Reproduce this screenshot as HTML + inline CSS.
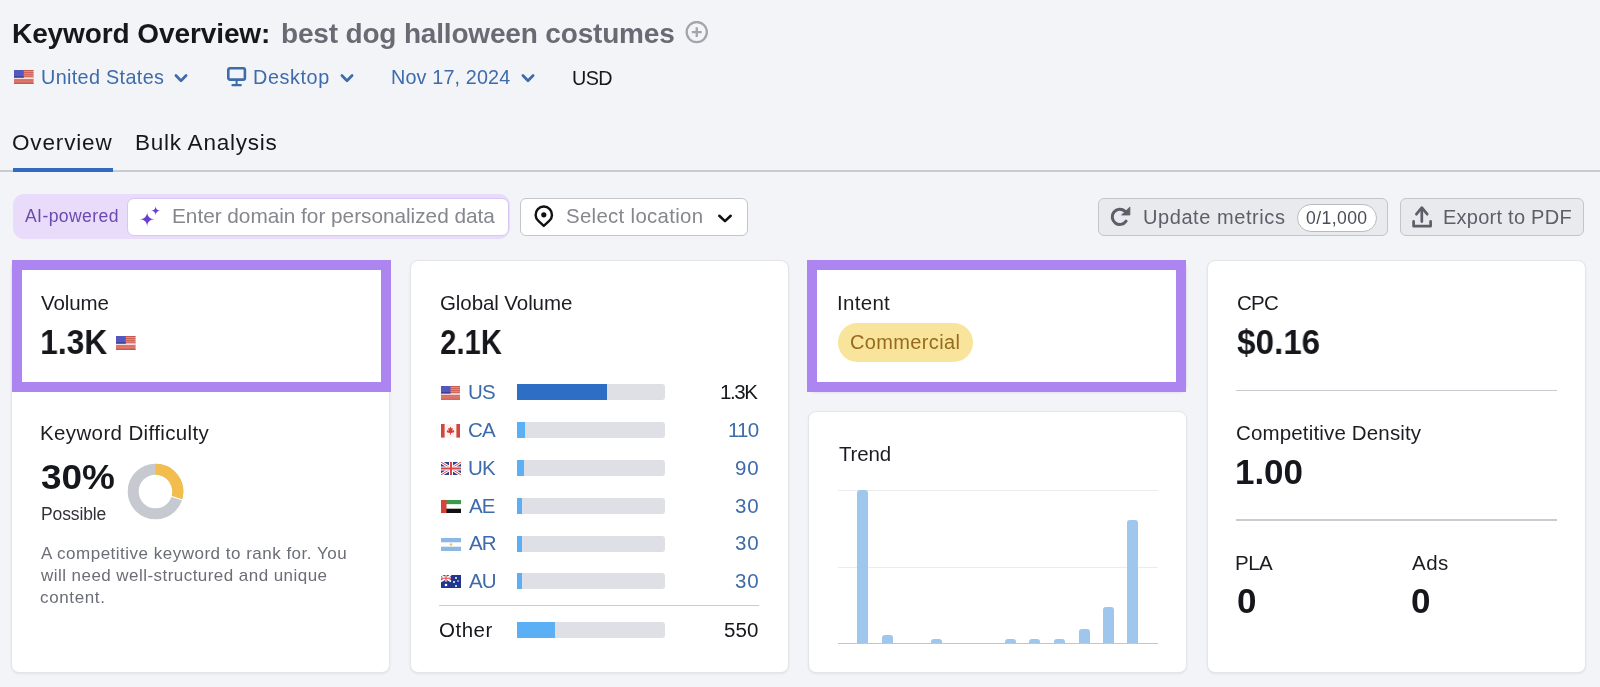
<!DOCTYPE html>
<html><head><meta charset="utf-8"><title>Keyword Overview</title>
<style>
*{margin:0;padding:0;box-sizing:border-box}
html,body{width:1600px;height:687px;overflow:hidden;background:#f3f4f8}
body{position:relative;font-family:"Liberation Sans",sans-serif}
.t{position:absolute;white-space:nowrap;will-change:transform}
.a{position:absolute}
.card{position:absolute;background:#fff;border:1px solid #e4e5ea;border-radius:8px;box-shadow:0 1px 2px rgba(30,35,60,0.08)}
.hl{position:absolute;border:10px solid #ad85f1}
.track{position:absolute;height:16px;background:#dfe0e6;border-radius:0 3px 3px 0}
.fill{position:absolute;left:0;top:0;height:16px}
.bar{position:absolute;width:11px;background:#9fc6ec;border-radius:3px 3px 0 0}
</style></head>
<body>
<!-- title plus icon -->
<svg class="a" style="left:685px;top:21px" width="24" height="24" viewBox="0 0 24 24"><circle cx="11.75" cy="11.1" r="10.1" fill="none" stroke="#a2a5ad" stroke-width="2.3"/><path d="M11.75 6.2v9.8M6.85 11.1h9.8" stroke="#a2a5ad" stroke-width="2.3"/></svg>
<!-- US flag header -->
<svg class="a" style="left:14px;top:70.2px" width="19.5" height="14" viewBox="0 0 20 14" preserveAspectRatio="none"><rect width="20" height="14" fill="#e98a7c"/><g fill="#c65a4f"><rect y="0" width="20" height="1"/><rect y="2.2" width="20" height="0.9"/><rect y="4.3" width="20" height="0.9"/><rect y="6.4" width="20" height="0.9"/><rect y="9.6" width="20" height="0.9"/><rect y="11.7" width="20" height="0.9"/><rect y="13" width="20" height="1"/></g><rect y="7.4" width="20" height="1.5" fill="#f6e3e3"/><rect width="10" height="7.4" fill="#5358bf"/><rect y="6.6" width="10" height="0.9" fill="#272a78"/></svg>
<!-- chevrons -->
<svg class="a" style="left:172px;top:72px" width="18" height="12" viewBox="0 0 18 12"><path d="M3.9 3.5l5.1 5.3 5.1-5.3" fill="none" stroke="#3e6ba9" stroke-width="2.7" stroke-linecap="round" stroke-linejoin="round"/></svg>
<svg class="a" style="left:338px;top:72px" width="18" height="12" viewBox="0 0 18 12"><path d="M3.9 3.5l5.1 5.3 5.1-5.3" fill="none" stroke="#3e6ba9" stroke-width="2.7" stroke-linecap="round" stroke-linejoin="round"/></svg>
<svg class="a" style="left:518.5px;top:72px" width="18" height="12" viewBox="0 0 18 12"><path d="M3.9 3.5l5.1 5.3 5.1-5.3" fill="none" stroke="#3e6ba9" stroke-width="2.7" stroke-linecap="round" stroke-linejoin="round"/></svg>
<!-- desktop icon -->
<svg class="a" style="left:226px;top:66px" width="22" height="22" viewBox="0 0 22 22"><rect x="2.3" y="2.3" width="16.6" height="11.3" rx="1.6" fill="none" stroke="#3e6ba9" stroke-width="2.6"/><rect x="9.6" y="14" width="2" height="4.4" fill="#3e6ba9"/><rect x="5.4" y="18" width="10.5" height="2.3" rx="1.15" fill="#3e6ba9"/></svg>
<!-- tabs -->
<div class="a" style="left:0;top:170px;width:1600px;height:2px;background:#cacbd1"></div>
<div class="a" style="left:13px;top:168px;width:100px;height:4px;background:#2f6bc0"></div>
<!-- AI pill -->
<div class="a" style="left:13px;top:194px;width:497px;height:45px;background:#e8dcfa;border-radius:11px"></div>
<div class="a" style="left:127px;top:197.5px;width:382px;height:38px;background:#fff;border:1.5px solid #d9c6f5;border-radius:7px"></div>
<svg class="a" style="left:136px;top:202px" width="30" height="30" viewBox="0 0 30 30"><path d="M11.15 10.05 C11.15 14.23 14.17 17.25 18.35 17.25 C14.17 17.25 11.15 20.27 11.15 24.45 C11.15 20.27 8.13 17.25 3.95 17.25 C8.13 17.25 11.15 14.23 11.15 10.05 Z" fill="#6a3fd0"/><path d="M19.65 4.35 C19.65 6.90 21.50 8.75 24.05 8.75 C21.50 8.75 19.65 10.60 19.65 13.15 C19.65 10.60 17.80 8.75 15.25 8.75 C17.80 8.75 19.65 6.90 19.65 4.35 Z" fill="#6a3fd0"/></svg>
<!-- select location -->
<div class="a" style="left:520px;top:197.5px;width:228px;height:38px;background:#fff;border:1px solid #c3c5cb;border-radius:6px"></div>
<svg class="a" style="left:528px;top:200px" width="32" height="32" viewBox="0 0 32 32"><path d="M15.8 25.9 L10.4 20.9 A8.2 8.2 0 1 1 21.2 20.9 Z" fill="none" stroke="#111" stroke-width="2.4" stroke-linejoin="round"/><circle cx="15.8" cy="14.8" r="2.6" fill="#111"/></svg>
<svg class="a" style="left:715.6px;top:210.7px" width="18" height="14" viewBox="0 0 18 14"><path d="M3.3 4.8l5.7 5.3 5.7-5.3" fill="none" stroke="#111" stroke-width="2.6" stroke-linecap="round" stroke-linejoin="round"/></svg>
<!-- update metrics btn -->
<div class="a" style="left:1098px;top:198px;width:290px;height:38px;background:#e9eaee;border:1px solid #c3c5cb;border-radius:6px"></div>
<div class="a" style="left:1297px;top:203.5px;width:79.5px;height:28px;background:#fff;border:1.3px solid #babcc2;border-radius:14px"></div>
<svg class="a" style="left:1105px;top:200px" width="35" height="34" viewBox="0 0 35 34"><path d="M19.9 11.2 A7.6 7.6 0 1 0 21.1 21.2" fill="none" stroke="#5c5f68" stroke-width="3" stroke-linecap="round"/><path d="M16.6 15 L24.9 15 L24.9 7 Z" fill="#5c5f68" stroke="#5c5f68" stroke-width="0.8" stroke-linejoin="round"/></svg>
<!-- export btn -->
<div class="a" style="left:1400px;top:198px;width:184px;height:38px;background:#e9eaee;border:1px solid #c3c5cb;border-radius:6px"></div>
<svg class="a" style="left:1405px;top:200px" width="35" height="34" viewBox="0 0 35 34"><path d="M16.8 21.6V11" fill="none" stroke="#5c5f68" stroke-width="2.7" stroke-linecap="round"/><path d="M11.4 14.2 L16.8 7.6 L22.2 14.2" fill="none" stroke="#5c5f68" stroke-width="2.7" stroke-linecap="round" stroke-linejoin="round"/><path d="M8.6 21.4v4.8h17v-4.8" fill="none" stroke="#5c5f68" stroke-width="2.7" stroke-linecap="round" stroke-linejoin="round"/></svg>

<!-- cards -->
<div class="card" style="left:11px;top:260px;width:379px;height:413px"></div>
<div class="card" style="left:410px;top:260px;width:379px;height:413px"></div>
<div class="card" style="left:808px;top:260px;width:379px;height:132px"></div>
<div class="card" style="left:808px;top:411px;width:379px;height:262px"></div>
<div class="card" style="left:1207px;top:260px;width:379px;height:413px"></div>
<div class="hl" style="left:12px;top:260px;width:379px;height:132px"></div>
<div class="hl" style="left:807px;top:260px;width:379px;height:132px"></div>

<!-- volume flag -->
<svg class="a" style="left:116px;top:336px" width="19.5" height="14" viewBox="0 0 20 14" preserveAspectRatio="none"><rect width="20" height="14" fill="#e98a7c"/><g fill="#c65a4f"><rect y="0" width="20" height="1"/><rect y="2.2" width="20" height="0.9"/><rect y="4.3" width="20" height="0.9"/><rect y="6.4" width="20" height="0.9"/><rect y="9.6" width="20" height="0.9"/><rect y="11.7" width="20" height="0.9"/><rect y="13" width="20" height="1"/></g><rect y="7.4" width="20" height="1.5" fill="#f6e3e3"/><rect width="10" height="7.4" fill="#5358bf"/><rect y="6.6" width="10" height="0.9" fill="#272a78"/></svg>

<!-- donut -->
<svg class="a" style="left:127px;top:463px" width="57" height="57" viewBox="0 0 57 57"><circle cx="28.5" cy="28.5" r="22.3" fill="none" stroke="#c6c9d0" stroke-width="11"/><path d="M28.5 6.2 A22.3 22.3 0 0 1 49.7 35.4" fill="none" stroke="#f2bd4d" stroke-width="11"/><path d="M44 33.2 L55.5 37" stroke="#fff" stroke-width="1.2"/></svg>

<!-- global volume bars -->
<div class="track" style="left:517px;top:384px;width:148px"><div class="fill" style="width:90px;background:#2e6ec4"></div></div>
<div class="track" style="left:517px;top:422px;width:148px"><div class="fill" style="width:8px;background:#5bb0f5"></div></div>
<div class="track" style="left:517px;top:460px;width:148px"><div class="fill" style="width:7px;background:#5bb0f5"></div></div>
<div class="track" style="left:517px;top:497.5px;width:148px"><div class="fill" style="width:4.5px;background:#5bb0f5"></div></div>
<div class="track" style="left:517px;top:535.5px;width:148px"><div class="fill" style="width:4.5px;background:#5bb0f5"></div></div>
<div class="track" style="left:517px;top:573px;width:148px"><div class="fill" style="width:4.5px;background:#5bb0f5"></div></div>
<div class="a" style="left:439px;top:604.5px;width:320px;height:1.5px;background:#c9cbd0"></div>
<div class="track" style="left:517px;top:622px;width:148px"><div class="fill" style="width:38px;background:#5bb0f5"></div></div>
<!-- country flags -->
<svg class="a" style="left:440.9px;top:386.1px" width="19" height="13.8" viewBox="0 0 20 14" preserveAspectRatio="none"><rect width="20" height="14" fill="#e98a7c"/><g fill="#c65a4f"><rect y="0" width="20" height="1"/><rect y="2.2" width="20" height="0.9"/><rect y="4.3" width="20" height="0.9"/><rect y="6.4" width="20" height="0.9"/><rect y="9.6" width="20" height="0.9"/><rect y="11.7" width="20" height="0.9"/><rect y="13" width="20" height="1"/></g><rect y="7.4" width="20" height="1.5" fill="#f6e3e3"/><rect width="10" height="7.4" fill="#5358bf"/><rect y="6.6" width="10" height="0.9" fill="#272a78"/></svg>
<svg class="a" style="left:440.9px;top:424px" width="19" height="13.6" viewBox="0 0 19 13.6"><rect width="19" height="13.6" fill="#fbf3f1"/><rect width="3.6" height="13.6" fill="#d2463c"/><rect x="15.4" width="3.6" height="13.6" fill="#d2463c"/><path d="M9.5 2.6 L10.5 4.6 L11.8 4.1 L11.3 6.9 L12.9 6 L13.3 7.3 L12.6 8.6 L10 9.1 L9.9 10.8 H9.1 L9 9.1 L6.4 8.6 L5.7 7.3 L6.1 6 L7.7 6.9 L7.2 4.1 L8.5 4.6Z" fill="#d83a30"/></svg>
<svg class="a" style="left:440.5px;top:462px" width="20" height="13" viewBox="0 0 20 13"><rect width="20" height="13" fill="#2d3f8f"/><path d="M0 0L20 13M20 0L0 13" stroke="#fff" stroke-width="3"/><path d="M0 0L20 13M20 0L0 13" stroke="#d44" stroke-width="1"/><path d="M10 0V13M0 6.5H20" stroke="#fff" stroke-width="4"/><path d="M10 0V13M0 6.5H20" stroke="#d44" stroke-width="2"/></svg>
<svg class="a" style="left:440.5px;top:500px" width="20" height="13" viewBox="0 0 20 13"><rect width="20" height="4.4" fill="#3a9a4a"/><rect y="4.4" width="20" height="4.3" fill="#fff"/><rect y="8.7" width="20" height="4.3" fill="#111"/><rect width="5.5" height="13" fill="#d7423a"/></svg>
<svg class="a" style="left:440.5px;top:537.5px" width="20" height="13" viewBox="0 0 20 13"><rect width="20" height="13" fill="#fff"/><rect width="20" height="4.3" fill="#8db8e3"/><rect y="8.7" width="20" height="4.3" fill="#8db8e3"/><circle cx="10" cy="6.5" r="1.3" fill="#f0c060"/></svg>
<svg class="a" style="left:440.5px;top:575px" width="20" height="13" viewBox="0 0 20 13"><rect width="20" height="13" fill="#22368f"/><rect width="10" height="6.5" fill="#2d3f8f"/><path d="M0 0L10 6.5M10 0L0 6.5" stroke="#fff" stroke-width="1.5"/><path d="M5 0V6.5M0 3.25H10" stroke="#fff" stroke-width="2.2"/><path d="M5 0V6.5M0 3.25H10" stroke="#d44" stroke-width="1.1"/><circle cx="5" cy="10" r="1.3" fill="#fff"/><circle cx="15" cy="3" r="1" fill="#fff"/><circle cx="13" cy="7" r="1" fill="#fff"/><circle cx="17" cy="6" r="0.8" fill="#fff"/><circle cx="15" cy="11" r="1" fill="#fff"/></svg>

<!-- intent pill -->
<div class="a" style="left:837.5px;top:323px;width:135.5px;height:38.5px;background:#f8e49b;border-radius:19.5px"></div>

<!-- trend chart -->
<div class="a" style="left:838px;top:490px;width:320px;height:1px;background:#ebecf0"></div>
<div class="a" style="left:838px;top:566.5px;width:320px;height:1px;background:#ebecf0"></div>
<div class="a" style="left:838px;top:642.5px;width:320px;height:1.5px;background:#c3c5cb"></div>
<div class="bar" style="left:857.2px;top:490.4px;height:153px"></div>
<div class="bar" style="left:882px;top:634.7px;height:8.6px"></div>
<div class="bar" style="left:930.7px;top:638.9px;height:4.4px"></div>
<div class="bar" style="left:1005px;top:638.9px;height:4.4px"></div>
<div class="bar" style="left:1029.2px;top:638.9px;height:4.4px"></div>
<div class="bar" style="left:1054px;top:638.9px;height:4.4px"></div>
<div class="bar" style="left:1078.7px;top:628.5px;height:14.8px"></div>
<div class="bar" style="left:1103px;top:607.4px;height:35.9px"></div>
<div class="bar" style="left:1127px;top:520px;height:123.3px"></div>

<!-- card4 dividers -->
<div class="a" style="left:1236px;top:389.5px;width:321px;height:1.5px;background:#c9cbd1"></div>
<div class="a" style="left:1236px;top:519px;width:321px;height:1.5px;background:#c9cbd1"></div>

<div class="t" style="left:12.00px;top:19.80px;font-size:28.00px;line-height:28.00px;color:#15171c;font-weight:bold;letter-spacing:-0.094px;">Keyword Overview:</div>
<div class="t" style="left:280.50px;top:20.00px;font-size:28.00px;line-height:28.00px;color:#686b74;font-weight:bold;letter-spacing:-0.173px;">best dog halloween costumes</div>
<div class="t" style="left:40.90px;top:68.20px;font-size:19.80px;line-height:19.80px;color:#3e6ba9;letter-spacing:0.342px;">United States</div>
<div class="t" style="left:253.30px;top:68.20px;font-size:19.80px;line-height:19.80px;color:#3e6ba9;letter-spacing:0.600px;">Desktop</div>
<div class="t" style="left:390.80px;top:68.20px;font-size:19.80px;line-height:19.80px;color:#3e6ba9;letter-spacing:0.145px;">Nov 17, 2024</div>
<div class="t" style="left:572.00px;top:68.50px;font-size:19.80px;line-height:19.80px;color:#15171c;letter-spacing:-0.650px;">USD</div>
<div class="t" style="left:12.10px;top:132.00px;font-size:22.50px;line-height:22.50px;color:#15171c;letter-spacing:0.843px;">Overview</div>
<div class="t" style="left:134.60px;top:132.00px;font-size:22.50px;line-height:22.50px;color:#15171c;letter-spacing:0.767px;">Bulk Analysis</div>
<div class="t" style="left:24.50px;top:207.80px;font-size:17.60px;line-height:17.60px;color:#6a4ab0;letter-spacing:0.389px;">AI-powered</div>
<div class="t" style="left:171.90px;top:206.40px;font-size:20.80px;line-height:20.80px;color:#85878d;letter-spacing:-0.027px;">Enter domain for personalized data</div>
<div class="t" style="left:565.80px;top:206.00px;font-size:20.40px;line-height:20.40px;color:#85878d;letter-spacing:0.321px;">Select location</div>
<div class="t" style="left:1142.80px;top:206.80px;font-size:20.00px;line-height:20.00px;color:#5c5f68;letter-spacing:0.569px;">Update metrics</div>
<div class="t" style="left:1306.00px;top:209.50px;font-size:17.60px;line-height:17.60px;color:#4a4d55;letter-spacing:0.400px;">0/1,000</div>
<div class="t" style="left:1443.00px;top:206.80px;font-size:20.00px;line-height:20.00px;color:#5c5f68;letter-spacing:0.250px;">Export to PDF</div>
<div class="t" style="left:41.00px;top:293.00px;font-size:20.50px;line-height:20.50px;color:#1b1d22;letter-spacing:-0.080px;">Volume</div>
<div class="t" style="left:39.60px;top:323.70px;font-size:35.00px;line-height:35.00px;color:#15171c;font-weight:bold;transform:scaleX(0.9056);transform-origin:2.00px 0;">1.3K</div>
<div class="t" style="left:39.70px;top:423.30px;font-size:20.50px;line-height:20.50px;color:#1b1d22;letter-spacing:0.371px;">Keyword Difficulty</div>
<div class="t" style="left:41.00px;top:458.60px;font-size:35.00px;line-height:35.00px;color:#15171c;font-weight:bold;transform:scaleX(1.0544);transform-origin:1.00px 0;">30%</div>
<div class="t" style="left:40.80px;top:505.50px;font-size:17.50px;line-height:17.50px;color:#303238;letter-spacing:-0.114px;">Possible</div>
<div class="t" style="left:41.30px;top:544.90px;font-size:17.00px;line-height:17.00px;color:#6b6e76;letter-spacing:0.495px;">A competitive keyword to rank for. You</div>
<div class="t" style="left:41.30px;top:566.80px;font-size:17.00px;line-height:17.00px;color:#6b6e76;letter-spacing:0.450px;">will need well-structured and unique</div>
<div class="t" style="left:40.30px;top:588.70px;font-size:17.00px;line-height:17.00px;color:#6b6e76;letter-spacing:0.629px;">content.</div>
<div class="t" style="left:439.50px;top:293.00px;font-size:20.50px;line-height:20.50px;color:#1b1d22;letter-spacing:-0.083px;">Global Volume</div>
<div class="t" style="left:439.70px;top:323.70px;font-size:35.00px;line-height:35.00px;color:#15171c;font-weight:bold;transform:scaleX(0.8342);transform-origin:1.00px 0;">2.1K</div>
<div class="t" style="left:468.40px;top:382.10px;font-size:20.50px;line-height:20.50px;color:#3e6ba9;letter-spacing:-0.800px;">US</div>
<div class="t" style="left:720.30px;top:382.10px;font-size:20.50px;line-height:20.50px;color:#15171c;letter-spacing:-1.433px;">1.3K</div>
<div class="t" style="left:468.40px;top:420.00px;font-size:20.50px;line-height:20.50px;color:#3e6ba9;letter-spacing:-0.800px;">CA</div>
<div class="t" style="left:727.60px;top:420.00px;font-size:20.50px;line-height:20.50px;color:#3e6ba9;letter-spacing:-0.800px;">110</div>
<div class="t" style="left:468.40px;top:457.80px;font-size:20.50px;line-height:20.50px;color:#3e6ba9;letter-spacing:-0.800px;">UK</div>
<div class="t" style="left:735.20px;top:457.80px;font-size:20.50px;line-height:20.50px;color:#3e6ba9;letter-spacing:0.800px;">90</div>
<div class="t" style="left:469.40px;top:495.60px;font-size:20.50px;line-height:20.50px;color:#3e6ba9;letter-spacing:-0.800px;">AE</div>
<div class="t" style="left:735.20px;top:495.60px;font-size:20.50px;line-height:20.50px;color:#3e6ba9;letter-spacing:0.800px;">30</div>
<div class="t" style="left:469.40px;top:533.40px;font-size:20.50px;line-height:20.50px;color:#3e6ba9;letter-spacing:-0.800px;">AR</div>
<div class="t" style="left:735.20px;top:533.40px;font-size:20.50px;line-height:20.50px;color:#3e6ba9;letter-spacing:0.800px;">30</div>
<div class="t" style="left:469.40px;top:571.20px;font-size:20.50px;line-height:20.50px;color:#3e6ba9;letter-spacing:-0.800px;">AU</div>
<div class="t" style="left:735.20px;top:571.20px;font-size:20.50px;line-height:20.50px;color:#3e6ba9;letter-spacing:0.800px;">30</div>
<div class="t" style="left:438.80px;top:620.00px;font-size:20.50px;line-height:20.50px;color:#15171c;letter-spacing:0.500px;">Other</div>
<div class="t" style="left:724.00px;top:620.10px;font-size:20.50px;line-height:20.50px;color:#15171c;letter-spacing:0.100px;">550</div>
<div class="t" style="left:836.90px;top:293.00px;font-size:20.50px;line-height:20.50px;color:#1b1d22;letter-spacing:0.300px;">Intent</div>
<div class="t" style="left:850.00px;top:332.10px;font-size:20.00px;line-height:20.00px;color:#976a1d;letter-spacing:0.367px;">Commercial</div>
<div class="t" style="left:839.10px;top:444.00px;font-size:20.50px;line-height:20.50px;color:#1b1d22;letter-spacing:-0.150px;">Trend</div>
<div class="t" style="left:1236.60px;top:292.80px;font-size:20.50px;line-height:20.50px;color:#1b1d22;letter-spacing:-0.800px;">CPC</div>
<div class="t" style="left:1237.00px;top:324.00px;font-size:35.00px;line-height:35.00px;color:#15171c;font-weight:bold;transform:scaleX(0.9494);transform-origin:1.00px 0;">$0.16</div>
<div class="t" style="left:1236.20px;top:423.40px;font-size:20.50px;line-height:20.50px;color:#1b1d22;letter-spacing:0.156px;">Competitive Density</div>
<div class="t" style="left:1235.00px;top:454.30px;font-size:35.00px;line-height:35.00px;color:#15171c;font-weight:bold;letter-spacing:-0.067px;">1.00</div>
<div class="t" style="left:1235.00px;top:552.50px;font-size:20.50px;line-height:20.50px;color:#1b1d22;letter-spacing:-0.500px;">PLA</div>
<div class="t" style="left:1236.50px;top:583.30px;font-size:35.00px;line-height:35.00px;color:#15171c;font-weight:bold;">0</div>
<div class="t" style="left:1411.70px;top:552.50px;font-size:20.50px;line-height:20.50px;color:#1b1d22;letter-spacing:0.500px;">Ads</div>
<div class="t" style="left:1410.70px;top:583.30px;font-size:35.00px;line-height:35.00px;color:#15171c;font-weight:bold;">0</div>
</body></html>
